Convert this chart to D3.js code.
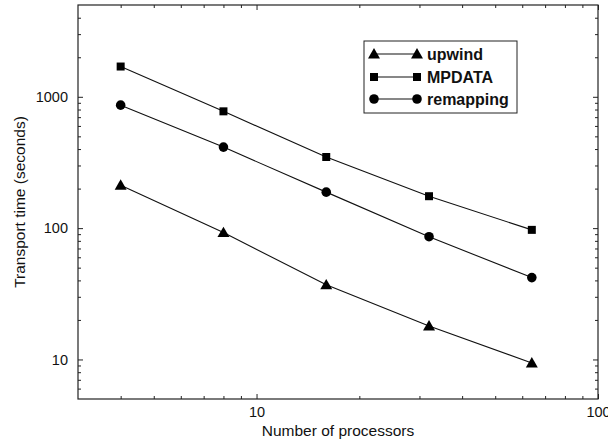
<!DOCTYPE html>
<html>
<head>
<meta charset="utf-8">
<script src="https://cdn.jsdelivr.net/npm/d3@7"></script>
<style>
  body { margin: 0; background: #fff; }
  svg { display: block; font-family: "Liberation Sans", Arial, sans-serif; }
  .domain { display: none; }
  .tick line { stroke: #222; stroke-width: 1; }
  .tick text { font-size: 14.5px; fill: #111; }
</style>
</head>
<body>
<div id="chart"></div>
<script>
// data
var processors = [4, 8, 16, 32, 64];
var upwind = [212, 92.5, 37, 18, 9.4];
var mpdata = [1700, 775, 348, 175, 97];
var remapping = [864, 414, 188, 86, 42];
var seriesNames = ["upwind", "MPDATA", "remapping"];
var xMajor = [10, 100];
var yMajor = [10, 100, 1000];

var W = 608, H = 440;
var margin = {top: 5, right: 10, bottom: 41, left: 78};
var width = W - margin.left - margin.right,
    height = H - margin.top - margin.bottom;

var svg = d3.select("#chart").append("svg")
    .attr("width", W).attr("height", H);
var g = svg.append("g")
    .attr("transform", "translate(" + margin.left + "," + margin.top + ")");

var x = d3.scaleLog().domain([3, 100]).range([0, width]);
var y = d3.scaleLog().domain([5, 5000]).range([height, 0]);

// minor ticks (every 1..9 in each decade)
function minors(lo, hi) {
    var out = [];
    for (var e = Math.floor(Math.log10(lo)); e <= Math.ceil(Math.log10(hi)); e++) {
        for (var m = 2; m <= 9; m++) {
            var v = m * Math.pow(10, e);
            if (v > lo && v < hi) out.push(v);
        }
    }
    return out;
}
var xMinor = minors(3, 100).filter(function(v) { return xMajor.indexOf(v) < 0; });
var yMinor = minors(5, 5000).filter(function(v) { return yMajor.indexOf(v) < 0; });

// ticks point inward on all four sides
g.append("g").attr("transform", "translate(0," + height + ")")
    .call(d3.axisBottom(x).tickValues(xMajor).tickFormat(d3.format("d")).tickSizeInner(-5).tickSizeOuter(0).tickPadding(8));
g.append("g").attr("transform", "translate(0," + height + ")")
    .call(d3.axisBottom(x).tickValues(xMinor).tickFormat("").tickSizeInner(-3).tickSizeOuter(0));
g.append("g")
    .call(d3.axisTop(x).tickValues(xMajor).tickFormat("").tickSizeInner(-5).tickSizeOuter(0));
g.append("g")
    .call(d3.axisTop(x).tickValues(xMinor).tickFormat("").tickSizeInner(-3).tickSizeOuter(0));

g.append("g")
    .call(d3.axisLeft(y).tickValues(yMajor).tickFormat(d3.format("d")).tickSizeInner(-5).tickSizeOuter(0).tickPadding(10));
g.append("g")
    .call(d3.axisLeft(y).tickValues(yMinor).tickFormat("").tickSizeInner(-3).tickSizeOuter(0));
g.append("g").attr("transform", "translate(" + width + ",0)")
    .call(d3.axisRight(y).tickValues(yMajor).tickFormat("").tickSizeInner(-5).tickSizeOuter(0));
g.append("g").attr("transform", "translate(" + width + ",0)")
    .call(d3.axisRight(y).tickValues(yMinor).tickFormat("").tickSizeInner(-3).tickSizeOuter(0));

// frame
g.append("rect")
    .attr("width", width).attr("height", height)
    .attr("fill", "none").attr("stroke", "#222").attr("stroke-width", 1.2);

// axis titles
svg.append("text")
    .attr("x", margin.left + width / 2).attr("y", 436)
    .attr("text-anchor", "middle").style("font-size", "15.5px").attr("fill", "#111")
    .text("Number of processors");
svg.append("text")
    .attr("transform", "translate(25," + (margin.top + height / 2) + ") rotate(-90)")
    .attr("text-anchor", "middle").style("font-size", "15.5px").attr("fill", "#111")
    .text("Transport time (seconds)");

var symbols = [d3.symbolTriangle, d3.symbolSquare, d3.symbolCircle];
var symSize = [62, 64, 72];
var allSeries = [upwind, mpdata, remapping];

var line = d3.line()
    .x(function(d) { return x(d[0]); })
    .y(function(d) { return y(d[1]); });

allSeries.forEach(function(vals, i) {
    var pts = processors.map(function(p, j) { return [p, vals[j]]; });
    g.append("path").datum(pts)
        .attr("d", line).attr("fill", "none")
        .attr("stroke", "#111").attr("stroke-width", 1.1);
    g.selectAll(".pt" + i).data(pts).enter()
        .append("path")
        .attr("class", "pt" + i)
        .attr("transform", function(d) {
            var dy = i == 0 ? 1 : 0;
            return "translate(" + x(d[0]) + "," + (y(d[1]) + dy) + ")";
        })
        .attr("d", d3.symbol().type(symbols[i]).size(symSize[i]))
        .attr("fill", "#000");
});

// legend
var lg = svg.append("g");
lg.append("rect")
    .attr("x", 364).attr("y", 41).attr("width", 153).attr("height", 72)
    .attr("fill", "#fff").attr("stroke", "#222").attr("stroke-width", 1);
var rowY = [54, 77, 99];
seriesNames.forEach(function(name, i) {
    lg.append("line")
        .attr("x1", 374).attr("x2", 417)
        .attr("y1", rowY[i]).attr("y2", rowY[i])
        .attr("stroke", "#111").attr("stroke-width", 1.1);
    [374, 417].forEach(function(px) {
        lg.append("path")
            .attr("transform", "translate(" + px + "," + (rowY[i] + (i == 0 ? 1 : 0)) + ")")
            .attr("d", d3.symbol().type(symbols[i]).size(symSize[i]))
            .attr("fill", "#000");
    });
    lg.append("text")
        .attr("x", 427).attr("y", rowY[i] + 6)
        .style("font-size", "16px").style("font-weight", "bold").attr("fill", "#111")
        .text(name);
});
</script>
</body>
</html>
